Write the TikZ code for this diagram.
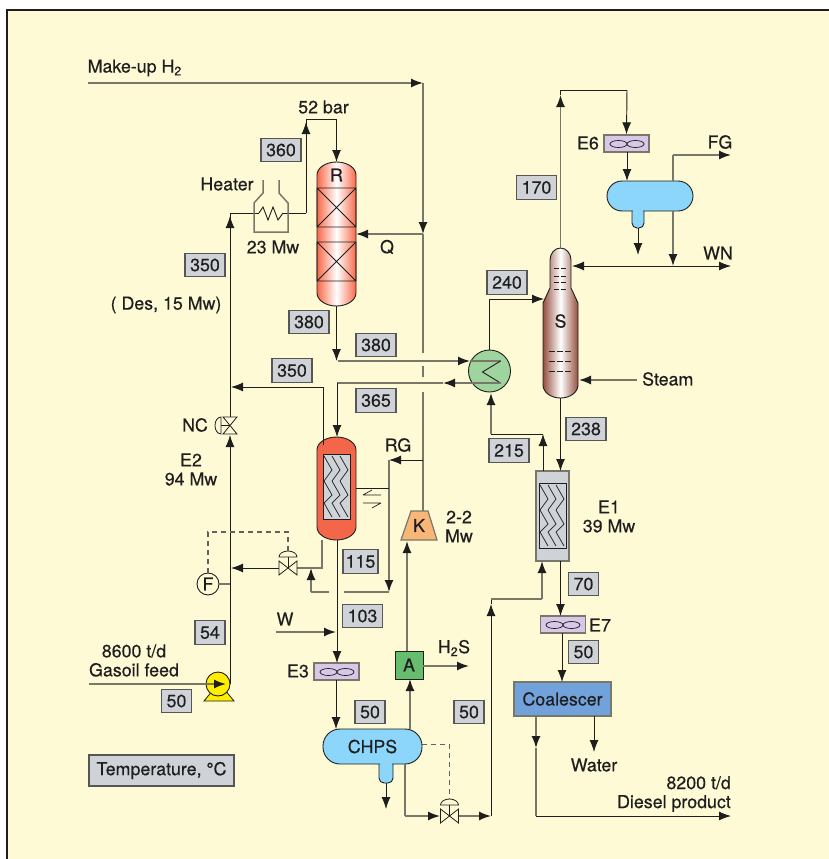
\documentclass[tikz,border=0pt]{standalone}
\usepackage{fontspec}
\setmainfont[RawFeature={embolden=0.35}]{TeX Gyre Heros}
\usetikzlibrary{arrows.meta,positioning,calc}
\definecolor{paper}{HTML}{FFFAD6}
\definecolor{ink}{HTML}{1E1E1E}
\definecolor{pipe}{HTML}{77776A}
\definecolor{tagfill}{HTML}{CFD2D6}
\definecolor{lilac}{HTML}{D9C7E8}
\definecolor{sepblue}{HTML}{8BD6FA}
\definecolor{reactor}{HTML}{F8694A}
\definecolor{stripper}{HTML}{964F40}
\definecolor{hotred}{HTML}{F4664A}
\definecolor{hxgreen}{HTML}{A0D49E}
\definecolor{absgreen}{HTML}{66BD6E}
\definecolor{coalblue}{HTML}{72A2DB}
\definecolor{kamber}{HTML}{F9B777}
\definecolor{pumpyl}{HTML}{FFEE00}
\tikzset{
txt/.style={font=\fontsize{17.8}{19}\selectfont,text=ink,inner sep=0pt,align=center},
tag/.style={txt,draw=ink!75,fill=tagfill,line width=1.1pt,minimum height=23.5pt,minimum width=30pt},
wtag/.style={tag,minimum width=40pt},
blk/.style={draw=ink,line width=.95pt},
gry/.style={draw=pipe,line width=1.5pt},
arr/.style={-{Latex[length=12pt,width=9pt,color=ink]}},
ctl/.style={draw=ink!70,line width=1.2pt,dash pattern=on 5pt off 4pt},
anchorbox/.style={inner sep=0pt,outer sep=0pt},
fanbox/.style={draw=pipe,line width=1.3pt,fill=lilac,minimum width=45pt,minimum height=17pt,inner sep=0pt},
}
% vertical vessel outline: cx, top, bottom, half width, style
\newcommand{\vesselpath}[5]{\draw[#5] (#1-#4,#2+13) arc[start angle=180,end angle=360,x radius=#4,y radius=13] -- (#1+#4,#3-13) arc[start angle=0,end angle=180,x radius=#4,y radius=13] -- cycle;}
% plate pack: left, top of the inner box
\newcommand{\platepack}[2]{\draw[blk,fill=tagfill] (#1,#2) rectangle ++(27,65);
\foreach \o in {0,8,16} \draw[ink,line width=.7pt] (#1+1+\o,#2+2)--(#1+9+\o,#2+16)--(#1+1+\o,#2+27)--(#1+9+\o,#2+41)--(#1+1+\o,#2+49)--(#1+9+\o,#2+63);}
% valve with dome actuator: centre x, y
\newcommand{\hvalve}[2]{\draw[ink,line width=.8pt,fill=paper] (#1-9,#2-7)--(#1+9,#2+7)--(#1+9,#2-7)--(#1-9,#2+7)--cycle;
\draw[ink,line width=.8pt,fill=paper] (#1-9,#2-11) arc[start angle=180,end angle=360,x radius=9,y radius=6] -- cycle;
\draw[ink,line width=.8pt] (#1,#2-11)--(#1,#2);}
\newcommand{\fan}[2]{\draw[ink,line width=.7pt] (#1-8.5,#2) ellipse[x radius=8.5,y radius=3.5] (#1+8.5,#2) ellipse[x radius=8.5,y radius=3.5];}

\begin{document}
\begin{tikzpicture}[x=1pt,y=-1pt]
\useasboundingbox (0,0) rectangle (829,859);
\draw[draw=ink,fill=paper,line width=2.4pt] (7,10) rectangle (840,870);

% equipment
\vesselpath{336.5}{162}{306}{19.5}{draw=ink,line width=.9pt,left color=reactor,right color=reactor,middle color=white}
\node[anchorbox,minimum width=39pt,minimum height=144pt] (R) at (336.5,234) {};
\foreach \a/\b in {188/227,242/281}{\draw[ink,line width=.8pt] (317,\a) rectangle (356,\b) (317,\a)--(356,\b) (356,\a)--(317,\b);}
\node[txt] (Rt) at (336.5,175) {R};

\vesselpath{336.5}{437}{540}{19.5}{draw=ink,line width=.9pt,fill=hotred}
\node[anchorbox,minimum width=39pt,minimum height=103pt] (E2) at (336.5,488.5) {};
\platepack{323}{454}

\draw[gry,fill=tagfill] (536,471) rectangle (569,561);
\node[anchorbox,minimum width=33pt,minimum height=90pt] (E1) at (552.5,516) {};
\platepack{539}{483}

\draw[draw=ink,line width=.9pt,left color=stripper,right color=stripper,middle color=white]
 (550,260) arc[start angle=180,end angle=360,x radius=10.5,y radius=12] -- (571,288) -- (578,303) -- (578,385)
 arc[start angle=0,end angle=180,x radius=17.5,y radius=13] -- (543,303) -- (550,288) -- cycle;
\node[anchorbox,minimum width=35pt,minimum height=150pt] (S) at (560.5,323) {};
\node[txt] (St) at (560.5,321) {S};
\foreach \y in {268,276,282,289}{\draw[ink,line width=.7pt,dash pattern=on 5pt off 2pt] (554,\y)--(567,\y);}
\foreach \y in {351,361,371}{\draw[ink,line width=.7pt,dash pattern=on 6pt off 2pt] (549,\y)--(572,\y);}

\node[circle,draw=ink,line width=.9pt,fill=hxgreen,minimum size=42pt,inner sep=0pt] (HX) at (489.5,371) {};
\node[txt,rectangle,draw=ink,line width=1pt,fill=absgreen,minimum size=28pt] (A) at (409,665) {A};
\node[fanbox] (E3) at (336.5,671.5) {}; \fan{337}{672}
\node[fanbox] (E6) at (626.5,143.5) {}; \fan{627}{144}
\node[fanbox] (E7) at (563,624.5) {}; \fan{563}{625}

\draw[draw=ink,line width=.9pt,fill=sepblue,rounded corners=5pt] (632,205) -- (632,228) -- (644,228) -- (644,205);
\node[draw=ink,line width=.9pt,fill=sepblue,rounded corners=15pt,minimum width=86pt,minimum height=30pt,inner sep=0pt] (FS) at (650,196) {};
\fill[sepblue] (632.6,205) rectangle (643.4,212.5);
\draw[draw=ink,line width=.9pt,fill=sepblue,rounded corners=5pt] (379,759) -- (379,783) -- (393,783) -- (393,759);
\node[txt,draw=ink,line width=.9pt,fill=sepblue,rounded corners=17pt,minimum width=99pt,minimum height=35pt] (CHPS) at (372.5,746.5) {CHPS};
\fill[sepblue] (379.6,759) rectangle (392.4,765);

\node[txt,draw=pipe,line width=1.3pt,fill=coalblue,minimum width=97pt,minimum height=34pt] (Coal) at (562.5,699) {Coalescer};
\draw[draw=pipe,line width=1.2pt,fill=kamber] (411,511) -- (428,511) -- (437,540) -- (401,540) -- cycle;
\node[txt] (K) at (419,525.5) {K};
\node[txt,circle,draw=ink,line width=.9pt,fill=paper,minimum size=22pt] (F) at (208,584) {F};

% junctions and free ends
\coordinate (mk0) at (88,83);
\coordinate (mk1) at (423,83);
\coordinate (jq) at (423,234);
\coordinate (gapa) at (423,353);
\coordinate (gapb) at (423,366);
\coordinate (gapc) at (423,377);
\coordinate (gapd) at (423,392);
\coordinate (jrg) at (423,460);
\coordinate (ktop) at (423,511);
\coordinate (hotlt) at (230,213);
\coordinate (coila) at (259,213);
\coordinate (coilb) at (283,213);
\coordinate (up52) at (306,119);
\coordinate (dn52) at (336.5,119);
\coordinate (heata) at (306,213);
\coordinate (r380) at (336.5,361);
\coordinate (r380s) at (338,361);
\coordinate (hxa) at (470,361);
\coordinate (hxb) at (500.5,361);
\coordinate (hxc) at (482.5,372);
\coordinate (hxd) at (500.5,383);
\coordinate (hxe) at (443,383);
\coordinate (j365) at (337,383);
\coordinate (e2in) at (337,437);
\coordinate (tl350) at (323,387);
\coordinate (tl350b) at (323,445);
\coordinate (nct) at (230,417);
\coordinate (ncb) at (230,435);
\coordinate (pmp) at (230,684);
\coordinate (j387) at (231,387);
\coordinate (j584) at (230,584);
\coordinate (e2ll) at (322,540);
\coordinate (e2lr) at (322,568);
\coordinate (vlvr) at (297,568);
\coordinate (vlvl) at (279,568);
\coordinate (j568) at (231,568);
\coordinate (rgl) at (389,460);
\coordinate (rgb) at (389,592);
\coordinate (e2r) at (356,488);
\coordinate (rgm) at (389,488);
\coordinate (gapl) at (329,592);
\coordinate (gapr) at (344,592);
\coordinate (lpb) at (311,592);
\coordinate (lpt) at (311,568);
\coordinate (wl) at (276,632);
\coordinate (wr) at (336,632);
\coordinate (e3in) at (337,663);
\coordinate (e2b) at (337,540);
\coordinate (e3o) at (336,680);
\coordinate (chin) at (336,729);
\coordinate (aKb) at (407,651);
\coordinate (Kb) at (407,541);
\coordinate (chA) at (410,729);
\coordinate (Ab) at (410,679);
\coordinate (h2sa) at (423,666);
\coordinate (h2s) at (469,666);
\coordinate (bta) at (386,783);
\coordinate (btb) at (386,809);
\coordinate (cho) at (405,764);
\coordinate (chob) at (405,816);
\coordinate (v2l) at (440,816);
\coordinate (v2r) at (459,816);
\coordinate (lbb) at (491,816);
\coordinate (lbm) at (491,604);
\coordinate (lbt) at (491,599);
\coordinate (e1bt) at (542,599);
\coordinate (e1b) at (542,561);
\coordinate (e1to) at (543,471);
\coordinate (e1tu) at (543,434);
\coordinate (hxu) at (491,434);
\coordinate (hxbt) at (491,393);
\coordinate (hxtop) at (489.5,350);
\coordinate (s240) at (489.5,299);
\coordinate (s240r) at (544,299);
\coordinate (sb) at (560.5,398);
\coordinate (e1in) at (560.5,471);
\coordinate (e1o) at (560.5,561);
\coordinate (e7in) at (560.5,616);
\coordinate (e7o) at (562,633);
\coordinate (coin) at (562,682);
\coordinate (sto) at (560.5,248);
\coordinate (stm) at (560.5,95);
\coordinate (stt) at (560.5,90);
\coordinate (sttr) at (627,90);
\coordinate (e6o) at (627,152);
\coordinate (fsin) at (627,181);
\coordinate (bob) at (638,228);
\coordinate (bobe) at (638,255);
\coordinate (fgv) at (673,181);
\coordinate (fgc) at (673,155);
\coordinate (fge) at (731,155);
\coordinate (fsb) at (673,211);
\coordinate (wnj) at (673,266);
\coordinate (wnl) at (572,266);
\coordinate (wnr) at (731,266);
\coordinate (wnm) at (600,266);
\coordinate (stma) at (637,380);
\coordinate (stmb) at (579,380);
\coordinate (cola) at (536,716);
\coordinate (colm) at (536,748);
\coordinate (colb) at (536,816);
\coordinate (cole) at (731,816);
\coordinate (wata) at (594,716);
\coordinate (watb) at (594,752);
\coordinate (ca1) at (288,551);
\coordinate (ca2) at (288,532);
\coordinate (ca3) at (208,532);
\coordinate (cb1) at (422,744.5);
\coordinate (cb2) at (449.5,744.5);
\coordinate (cb3) at (449.5,799);

% hydrogen and reactor loop
\draw[gry,arr] (mk0) -- (mk1);
\draw[gry,arr] (mk1) -- (jq);
\draw[gry] (jq) -- (gapa) (gapb) -- (gapc) (gapd) -- (jrg) -- (ktop);
\draw[gry,arr] (jq) -- (R.east);
\draw[blk,arr] (pmp) -- (ncb);
\draw[blk] (nct) -- (hotlt);
\draw[blk,arr] (nct) -- ($(hotlt)+(0,3)$);
\draw[blk] (hotlt) -- (coila) (coilb) -- (heata);
\draw[ink,line width=.9pt] (coila) -- ++(4,-6) -- ++(5,13) -- ++(5,-13) -- ++(5,13) -- (coilb);
\draw[blk] (heata) -- (up52) -- (dn52);
\draw[blk,arr] (heata) -- ($(up52)+(0,3)$);
\draw[blk,arr] (dn52) -- (R.north);
\draw[gry] (263,180) -- (263,193) -- (254,203) -- (254,232) -- (288,232) -- (288,203) -- (279,193) -- (279,180);
\draw[blk,arr] (R.south) -- (r380);
\draw[gry,arr] (r380s) -- (hxa);
\draw[gry] (hxa) -- (hxb);
\draw[ink,line width=.9pt] (hxb) -- (hxc) -- (hxd);
\draw[gry,arr] (hxd) -- (hxe);
\draw[gry] (hxe) -- (j365);
\draw[blk,arr] (j365) -- (e2in);
\draw[blk] (tl350b) -- (tl350);
\draw[blk,arr] (tl350) -- (j387);
\draw[blk,arr] (hxtop) -- (s240) -- (s240r);

% quench and recycle
\draw[blk,arr] (jrg) -- (rgl);
\draw[gry,arr] (rgl) -- (rgb);
\draw[gry] (rgb) -- (gapr) (gapl) -- (lpb);
\draw[gry,arr] (lpb) -- (lpt);
\draw[blk] (e2r) -- (rgm);
\draw[gry] (e2ll) -- (e2lr) -- (vlvr);
\draw[blk,arr] (vlvl) -- (j568);
\hvalve{288}{568}
\draw[ctl] (ca1) -- (ca2) -- (ca3) -- (F.north);
\draw[ink,line width=.7pt] (363,495) -- (381,495) (363,495) -- (372,490) (381,503) -- (363,503) (381,503) -- (372,508);

% left side instruments and valve
\draw[gry] (F.east) -- (j584);
\draw[ink,line width=.8pt,fill=paper] (223,417)--(237,434)--(223,434)--(237,417)--cycle;
\draw[ink,line width=.8pt,fill=paper] (221,417) arc[start angle=270,end angle=90,x radius=6,y radius=8.5] -- cycle;
\draw[ink,line width=.8pt] (221,425.5)--(230,425.5);

% pump
\draw[draw=ink,line width=.8pt,fill=pumpyl] (204,701) -- (213,690) -- (225,690) -- (234,701) -- cycle;
\node[circle,draw=ink,line width=.9pt,fill=pumpyl,minimum size=24pt,inner sep=0pt] (P) at (218,684) {};
\coordinate (fd0) at (89,684);
\coordinate (fd1) at (226,684);
\draw[gry,arr] (fd0) -- (fd1);

% separator section
\draw[gry,arr] (wl) -- (wr);
\draw[blk,arr] (e2b) -- (e3in);
\draw[blk,arr] (e3o) -- (chin);
\draw[gry,arr] (aKb) -- (Kb);
\draw[gry,arr] (chA) -- (Ab);
\draw[gry,arr] (h2sa) -- (h2s);
\draw[blk,arr] (bta) -- (btb);
\draw[gry] (cho) -- (chob);
\draw[gry,arr] (chob) -- (v2l);
\hvalve{449.5}{816}
\draw[ctl] (cb1) -- (cb2) -- (cb3);
\draw[gry,arr] (v2r) -- (lbb);
\draw[blk,arr] (lbb) -- (lbm);
\draw[blk] (lbm) -- (lbt);
\draw[gry] (lbt) -- (e1bt);
\draw[gry,arr] (e1bt) -- (e1b);
\draw[blk,arr] (e1to) -- (e1tu);
\draw[blk] (e1tu) -- (hxu);
\draw[gry,arr] (hxu) -- (hxbt);

% stripper
\draw[blk,arr] (sb) -- (e1in);
\draw[blk,arr] (e1o) -- (e7in);
\draw[blk,arr] (e7o) -- (coin);
\draw[gry,arr] (sto) -- (stm);
\draw[blk] (stm) -- (stt) -- (sttr);
\draw[blk,arr] (sttr) -- (E6.north);
\draw[blk,arr] (e6o) -- (fsin);
\draw[blk,arr] (bob) -- (bobe);
\draw[gry] (fgv) -- (fgc);
\draw[gry,arr] (fgc) -- (fge);
\draw[gry,arr] (fsb) -- (wnj);
\draw[blk,arr] (wnm) -- (wnl);
\draw[blk,arr] (wnm) -- (wnr);
\draw[gry,arr] (stma) -- (stmb);
\draw[gry,arr] (cola) -- (colm);
\draw[gry] (colm) -- (colb);
\draw[blk,arr] (colb) -- (cole);
\draw[blk,arr] (wata) -- (watb);

% temperature tags
\node[wtag] (t360) at (281,150) {360};
\node[wtag] (t350a) at (205,265) {350};
\node[wtag] (t380a) at (309,322) {380};
\node[wtag] (t380b) at (376,345) {380};
\node[wtag] (t350b) at (292,370.5) {350};
\node[wtag] (t365) at (376,400.5) {365};
\node[wtag,minimum width=35pt] (t115) at (360.5,561.5) {115};
\node[wtag] (t103) at (362.5,616) {103};
\node[tag] (t54) at (210,632.5) {54};
\node[tag] (t50a) at (176.5,701) {50};
\node[tag] (t50b) at (370,712) {50};
\node[tag] (t50c) at (469,712) {50};
\node[wtag] (t170) at (536.5,187.5) {170};
\node[wtag] (t240) at (507,282.5) {240};
\node[wtag] (t215) at (509,450.5) {215};
\node[wtag] (t238) at (586,429) {238};
\node[tag] (t70) at (583.5,584) {70};
\node[tag] (t50d) at (583.5,652) {50};
\node[tag,minimum width=145pt,minimum height=31pt] (ttemp) at (161.5,770.5) {Temperature, °C};

% labels
\node[txt,anchor=west] (lmk) at (87.5,68) {Make-up H\textsubscript{2}};
\node[txt] (l52) at (323.5,107) {52 bar};
\node[txt] (lheat) at (227,184) {Heater};
\node[txt] (l23) at (273,247) {23 Mw};
\node[txt] (lq) at (387,247) {Q};
\node[txt] (ldes) at (166,305) {( Des, 15 Mw)};
\node[txt] (lnc) at (195,425) {NC};
\node[txt] (lE2) at (191,469.5) {E2\\94 Mw};
\node[txt] (lrg) at (398,445) {RG};
\node[txt] (lkk) at (459,526.5) {2-2\\Mw};
\node[txt] (lw) at (285,619) {W};
\node[txt] (lfeed) at (134,660.5) {8600 t/d\\Gasoil feed};
\node[txt] (lE3) at (298,671) {E3};
\node[txt] (lh2s) at (454,648) {H\textsubscript{2}S};
\node[txt] (lE6) at (588,143) {E6};
\node[txt] (lfg) at (720,142) {FG};
\node[txt] (lwn) at (718,253) {WN};
\node[txt,anchor=west] (lst) at (642,379) {Steam};
\node[txt] (lE1) at (609,516.5) {E1\\39 Mw};
\node[txt] (lE7) at (600,625) {E7};
\node[txt] (lwat) at (594,765) {Water};
\node[txt,align=right,anchor=east] (ldp) at (731,794) {8200 t/d\\Diesel product};
\end{tikzpicture}
\end{document}
